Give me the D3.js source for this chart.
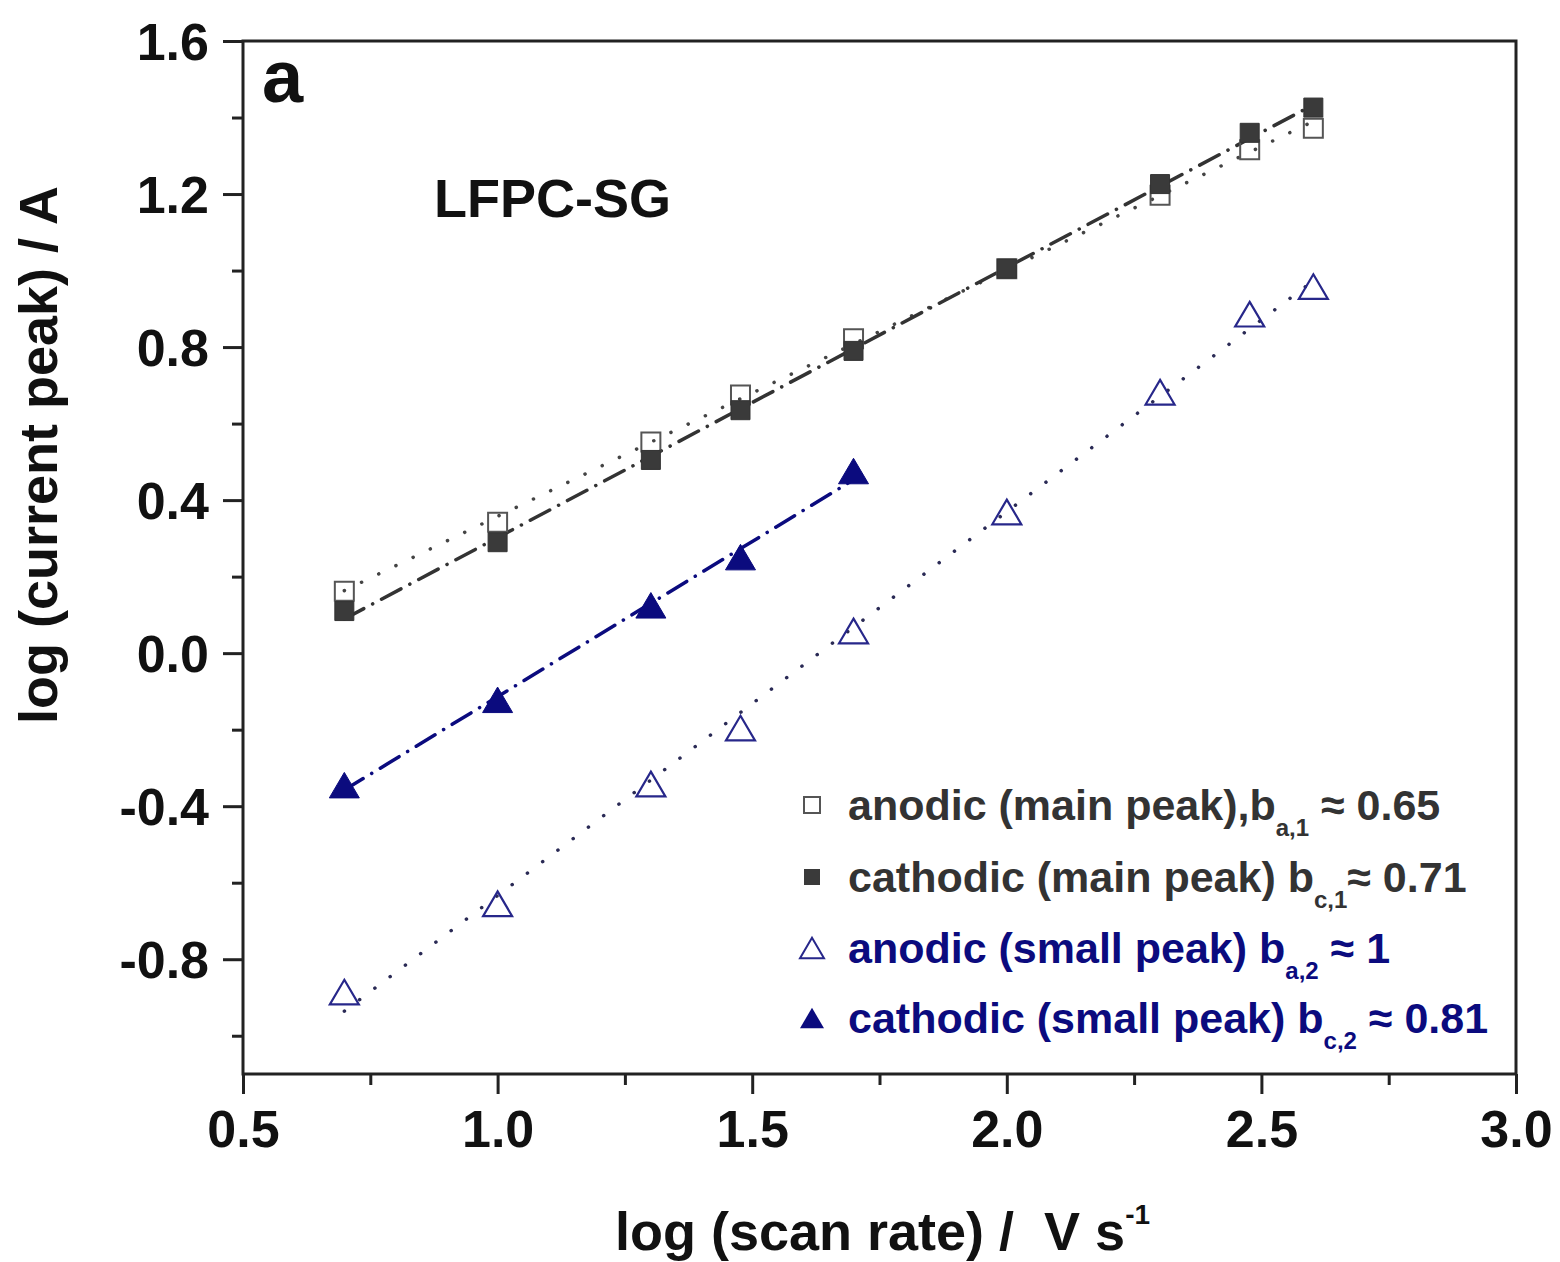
<!DOCTYPE html>
<html><head><meta charset="utf-8">
<script src="https://cdn.jsdelivr.net/npm/d3@7/dist/d3.min.js"></script>
<style>
html,body{margin:0;padding:0;background:#fff;}
text{font-family:"Liberation Sans",Arial,sans-serif;font-weight:bold;}
</style></head>
<body>
<svg id="chart" width="1560" height="1262"></svg>
<script>
// ---- data ----
const scanRate = [0.699, 1.0, 1.301, 1.477, 1.699, 2.0, 2.301, 2.477, 2.602];
const anodicMain = [0.162, 0.342, 0.552, 0.675, 0.822, 1.005, 1.197, 1.316, 1.372];
const cathodicMain = [0.11, 0.29, 0.505, 0.635, 0.79, 1.005, 1.226, 1.36, 1.426];
const anodicSmall = [-0.886, -0.655, -0.342, -0.196, 0.058, 0.369, 0.682, 0.886, 0.958];
const scanRateSmallCath = [0.699, 1.0, 1.301, 1.477, 1.699];
const cathodicSmall = [-0.345, -0.122, 0.125, 0.251, 0.476];
const xTicks = [0.5, 1.0, 1.5, 2.0, 2.5, 3.0];
const yTicks = [-0.8, -0.4, 0.0, 0.4, 0.8, 1.2, 1.6];
const legendLabels = [
  {main:"anodic (main peak),b", sub:"a,1", tail:" \u2248 0.65"},
  {main:"cathodic (main peak) b", sub:"c,1", tail:"\u2248 0.71"},
  {main:"anodic (small peak) b", sub:"a,2", tail:" \u2248 1"},
  {main:"cathodic (small peak) b", sub:"c,2", tail:" \u2248 0.81"}
];

const GRAY = "#333333", NAVY = "#0b0b7e";
const svg = d3.select("#chart");
const L = 243, R = 1516, T = 41, B = 1074;
const x = d3.scaleLinear().domain([0.5, 3.0]).range([L, R]);
const y = d3.scaleLinear().domain([-1.1, 1.6]).range([B, T]);
const fmt = d => d.toFixed(1);

// minor ticks
const xMinor = d3.range(0.75, 3.0, 0.5);
const yMinor = d3.range(-1.0, 1.6, 0.4);
svg.append("g").attr("transform",`translate(0,${B})`)
  .call(d3.axisBottom(x).tickValues(xMinor).tickSize(11).tickFormat(""))
  .call(g=>g.select(".domain").remove())
  .call(g=>g.selectAll("line").attr("stroke","#222").attr("stroke-width",3));
svg.append("g").attr("transform",`translate(${L},0)`)
  .call(d3.axisLeft(y).tickValues(yMinor).tickSize(11).tickFormat(""))
  .call(g=>g.select(".domain").remove())
  .call(g=>g.selectAll("line").attr("stroke","#222").attr("stroke-width",3));

// major ticks
const xAx = svg.append("g").attr("transform",`translate(0,${B})`)
  .call(d3.axisBottom(x).tickValues(xTicks).tickSize(20).tickPadding(16).tickFormat(fmt));
xAx.select(".domain").remove();
xAx.selectAll("line").attr("stroke","#222").attr("stroke-width",3);
xAx.selectAll("text").attr("font-size",52).attr("fill","#111");

const yAx = svg.append("g").attr("transform",`translate(${L},0)`)
  .call(d3.axisLeft(y).tickValues(yTicks).tickSize(20).tickPadding(14).tickFormat(fmt));
yAx.select(".domain").remove();
yAx.selectAll("line").attr("stroke","#222").attr("stroke-width",3);
yAx.selectAll("text").attr("font-size",52).attr("fill","#111").attr("dy","0.36em");

// frame
svg.append("rect").attr("x",L).attr("y",T).attr("width",R-L).attr("height",B-T)
  .attr("fill","none").attr("stroke","#222").attr("stroke-width",3);

// fit lines (least squares)
function fit(xs, ys){
  const n = xs.length, mx = d3.mean(xs), my = d3.mean(ys);
  let sxy=0, sxx=0;
  for(let i=0;i<n;i++){sxy+=(xs[i]-mx)*(ys[i]-my); sxx+=(xs[i]-mx)**2;}
  const b = sxy/sxx, a = my - b*mx;
  const x0 = d3.min(xs), x1 = d3.max(xs);
  return [[x0, a+b*x0],[x1, a+b*x1]];
}
const line = d3.line().x(d=>x(d[0])).y(d=>y(d[1]));
const DOT = "0.1,19", DASHDOT = "22,10,0.1,10";
const fits = [
  {xs:scanRate, ys:anodicMain, color:"#444", dash:DOT},
  {xs:scanRate, ys:cathodicMain, color:"#333", dash:DASHDOT},
  {xs:scanRate, ys:anodicSmall, color:"#2a2a55", dash:DOT},
  {xs:scanRateSmallCath, ys:cathodicSmall, color:NAVY, dash:DASHDOT}
];
fits.forEach(f=>{
  svg.append("path").attr("d", line(fit(f.xs, f.ys)))
    .attr("fill","none").attr("stroke",f.color).attr("stroke-width",3.5)
    .attr("stroke-linecap","round").attr("stroke-dasharray",f.dash);
});

// markers
const sq = d3.symbol().type(d3.symbolSquare).size(19*19);
function tri(w){ const h = w*0.85; return `M0,${-h/2}L${w/2},${h/2}L${-w/2},${h/2}Z`; }

svg.append("g").selectAll("path").data(scanRate.map((v,i)=>[v,anodicSmall[i]])).join("path")
  .attr("d", tri(29)).attr("transform",d=>`translate(${x(d[0])},${y(d[1])})`)
  .attr("fill","none").attr("stroke","#27278a").attr("stroke-width",2.2);
svg.append("g").selectAll("path").data(scanRateSmallCath.map((v,i)=>[v,cathodicSmall[i]])).join("path")
  .attr("d", tri(30)).attr("transform",d=>`translate(${x(d[0])},${y(d[1])})`)
  .attr("fill",NAVY).attr("stroke",NAVY).attr("stroke-width",1);
svg.append("g").selectAll("path").data(scanRate.map((v,i)=>[v,anodicMain[i]])).join("path")
  .attr("d", sq).attr("transform",d=>`translate(${x(d[0])},${y(d[1])})`)
  .attr("fill","none").attr("stroke","#555").attr("stroke-width",2);
svg.append("g").selectAll("path").data(scanRate.map((v,i)=>[v,cathodicMain[i]])).join("path")
  .attr("d", sq).attr("transform",d=>`translate(${x(d[0])},${y(d[1])})`)
  .attr("fill","#3a3a3a").attr("stroke","#333").attr("stroke-width",1);

// labels inside plot
svg.append("text").attr("x",262).attr("y",102).attr("font-size",74).attr("fill","#111").text("a");
svg.append("text").attr("x",434).attr("y",217).attr("font-size",54).attr("fill","#111").text("LFPC-SG");

// legend
const legY = [820, 892, 963, 1033];
const legColors = [GRAY, GRAY, NAVY, NAVY];
const lx = 812, tx = 848;
legendLabels.forEach((lab,i)=>{
  const cy = legY[i]-15;
  if(i===0) svg.append("rect").attr("x",lx-8).attr("y",cy-8).attr("width",16).attr("height",16).attr("fill","none").attr("stroke","#555").attr("stroke-width",2);
  if(i===1) svg.append("rect").attr("x",lx-8).attr("y",cy-8).attr("width",16).attr("height",16).attr("fill","#3a3a3a");
  if(i===2) svg.append("path").attr("d",tri(24)).attr("transform",`translate(${lx},${cy})`).attr("fill","none").attr("stroke","#27278a").attr("stroke-width",2);
  if(i===3) svg.append("path").attr("d",tri(24)).attr("transform",`translate(${lx},${cy})`).attr("fill",NAVY);
  const t = svg.append("text").attr("x",tx).attr("y",legY[i]).attr("font-size",43).attr("fill",legColors[i]);
  t.append("tspan").text(lab.main);
  t.append("tspan").attr("font-size",24).attr("dy",16).text(lab.sub);
  t.append("tspan").attr("dy",-16).text(lab.tail);
});

// axis titles
const xt = svg.append("text").attr("x",615).attr("y",1250).attr("font-size",54).attr("fill","#111");
xt.append("tspan").text("log (scan rate) /\u00a0\u00a0V s");
xt.append("tspan").attr("font-size",28).attr("dy",-26).text("-1");

svg.append("text").attr("transform","translate(57,455) rotate(-90)").attr("text-anchor","middle")
  .attr("font-size",54).attr("fill","#111").text("log (current peak) / A");
</script>
</body></html>
